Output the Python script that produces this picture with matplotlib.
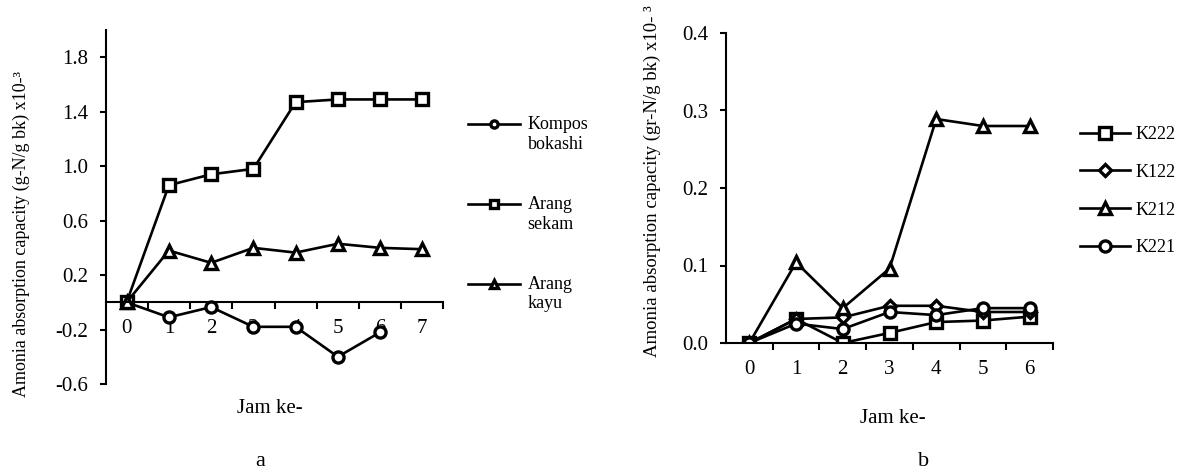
import numpy as np
import matplotlib
matplotlib.use("Agg")
import matplotlib.pyplot as plt
from matplotlib.legend_handler import HandlerLine2D
from matplotlib.ticker import FixedLocator

plt.rcParams['font.family'] = ['Liberation Serif', 'DejaVu Serif']
plt.rcParams['axes.unicode_minus'] = False

# --- chart a ---
jam_a = [0, 1, 2, 3, 4, 5, 6, 7]
kompos = [0, -0.11, -0.035, -0.18, -0.18, -0.40, -0.22]
sekam = [0, 0.86, 0.94, 0.98, 1.47, 1.49, 1.49, 1.49]
kayu = [0, 0.38, 0.29, 0.40, 0.365, 0.43, 0.40, 0.39]
labels_a = ["Kompos\nbokashi", "Arang\nsekam", "Arang\nkayu"]
yticks_a = [-0.6, -0.2, 0.2, 0.6, 1.0, 1.4, 1.8]

# --- chart b ---
jam_b = [0, 1, 2, 3, 4, 5, 6]
k222 = [0, 0.031, 0.0, 0.013, 0.027, 0.029, 0.034]
k122 = [0, 0.031, 0.033, 0.048, 0.048, 0.040, 0.040]
k212 = [0, 0.104, 0.045, 0.096, 0.289, 0.280, 0.280]
k221 = [0, 0.025, 0.018, 0.040, 0.036, 0.045, 0.045]
labels_b = ["K222", "K122", "K212", "K221"]
yticks_b = [0.0, 0.1, 0.2, 0.3, 0.4]

W, H = 1187, 474
LW = 1.9
MS = 8
MEW = 2.4


class FirstLineHandler(HandlerLine2D):
    # put the legend line next to the first line of a two-line label
    def __init__(self, lift, **kw):
        super().__init__(**kw)
        self.lift = lift

    def create_artists(self, legend, orig_handle, xdescent, ydescent,
                       width, height, fontsize, trans):
        arts = super().create_artists(legend, orig_handle, xdescent, ydescent,
                                      width, height, fontsize, trans)
        for a in arts:
            a.set_ydata(np.asarray(a.get_ydata()) + self.lift * fontsize)
        return arts


def style(**kw):
    d = dict(color='black', lw=LW, ms=MS, mew=MEW, mfc='white', mec='black')
    d.update(kw)
    return d


fig = plt.figure(figsize=(W / 100, H / 100), dpi=100)

# ---------------- a ----------------
ax = fig.add_axes([105.5 / W, (H - 384) / H, 338 / W, 354 / H])
la1, = ax.plot(jam_a[:len(kompos)], kompos, marker='o', **style())
la2, = ax.plot(jam_a, sekam, marker='s', **style())
la3, = ax.plot(jam_a, kayu, marker='^', **style())
ax.set_xlim(-0.5, 7.5)
ax.set_ylim(-0.6, 2.0)
for s in ['top', 'right']:
    ax.spines[s].set_visible(False)
ax.spines['bottom'].set_position(('data', 0))
for s in ['left', 'bottom']:
    ax.spines[s].set_linewidth(1.5)
ax.set_yticks(yticks_a)
ax.set_yticklabels([f"{v:.1f}" for v in yticks_a])
ax.set_xticks(jam_a)
ax.set_xticklabels([str(v) for v in jam_a])
ax.xaxis.set_minor_locator(FixedLocator(np.arange(0.5, 7.6, 1)))
ax.tick_params(axis='x', which='major', length=0, pad=12, labelsize=15)
ax.tick_params(axis='x', which='minor', length=5, width=1.5, direction='out')
ax.tick_params(axis='y', length=4.5, width=1.5, pad=8, labelsize=15)
ax.text(0.485, -0.068, "Jam ke-", transform=ax.transAxes, ha='center',
        va='center', fontsize=15)

leg = fig.legend([la1, la2, la3], labels_a, loc='upper left',
                 bbox_to_anchor=(468 / W, 1 - 116 / H), frameon=False,
                 fontsize=13, handlelength=2.9, handletextpad=0.4,
                 borderpad=0, borderaxespad=0, labelspacing=2.4,
                 markerscale=0.65,
                 handler_map={la1: FirstLineHandler(0.6),
                              la2: FirstLineHandler(0.6),
                              la3: FirstLineHandler(0.6)})

fig.text(21 / W, 1 - 234 / H, "Amonia absorption capacity (g-N/g bk) x10-³",
         rotation=90, ha='center', va='center', fontsize=13)
fig.text(260 / W, 1 - 462 / H, "a", ha='center', va='center', fontsize=16)

# ---------------- b ----------------
bx = fig.add_axes([726 / W, (H - 343) / H, 327 / W, 310 / H])
lb1, = bx.plot(jam_b, k222, marker='s', **style())
lb2, = bx.plot(jam_b, k122, marker='D', **style(ms=6.5))
lb3, = bx.plot(jam_b, k212, marker='^', **style())
lb4, = bx.plot(jam_b, k221, marker='o', **style())
bx.set_xlim(-0.5, 6.5)
bx.set_ylim(0, 0.4)
for s in ['top', 'right']:
    bx.spines[s].set_visible(False)
for s in ['left', 'bottom']:
    bx.spines[s].set_linewidth(1.5)
bx.set_yticks(yticks_b)
bx.set_yticklabels([f"{v:.1f}" for v in yticks_b])
bx.set_xticks(jam_b)
bx.set_xticklabels([str(v) for v in jam_b])
bx.xaxis.set_minor_locator(FixedLocator(np.arange(0.5, 6.6, 1)))
bx.tick_params(axis='x', which='major', length=0, pad=12, labelsize=15)
bx.tick_params(axis='x', which='minor', length=5, width=1.5, direction='out')
bx.tick_params(axis='y', length=4.5, width=1.5, pad=8, labelsize=15)
bx.text(0.51, -0.245, "Jam ke-", transform=bx.transAxes, ha='center',
        va='center', fontsize=15)

fig.legend([lb1, lb2, lb3, lb4], labels_b, loc='upper left',
           bbox_to_anchor=(1080 / W, 1 - 126 / H), frameon=False,
           fontsize=13, handlelength=2.75, handletextpad=0.3,
           borderpad=0, borderaxespad=0, labelspacing=1.15)

fig.text(652 / W, 1 - 181 / H, "Amonia absorption capacity (gr-N/g bk) x10- ³",
         rotation=90, ha='center', va='center', fontsize=13.5)
fig.text(924 / W, 1 - 462 / H, "b", ha='center', va='center', fontsize=16)

fig.savefig("out.png", dpi=100)
